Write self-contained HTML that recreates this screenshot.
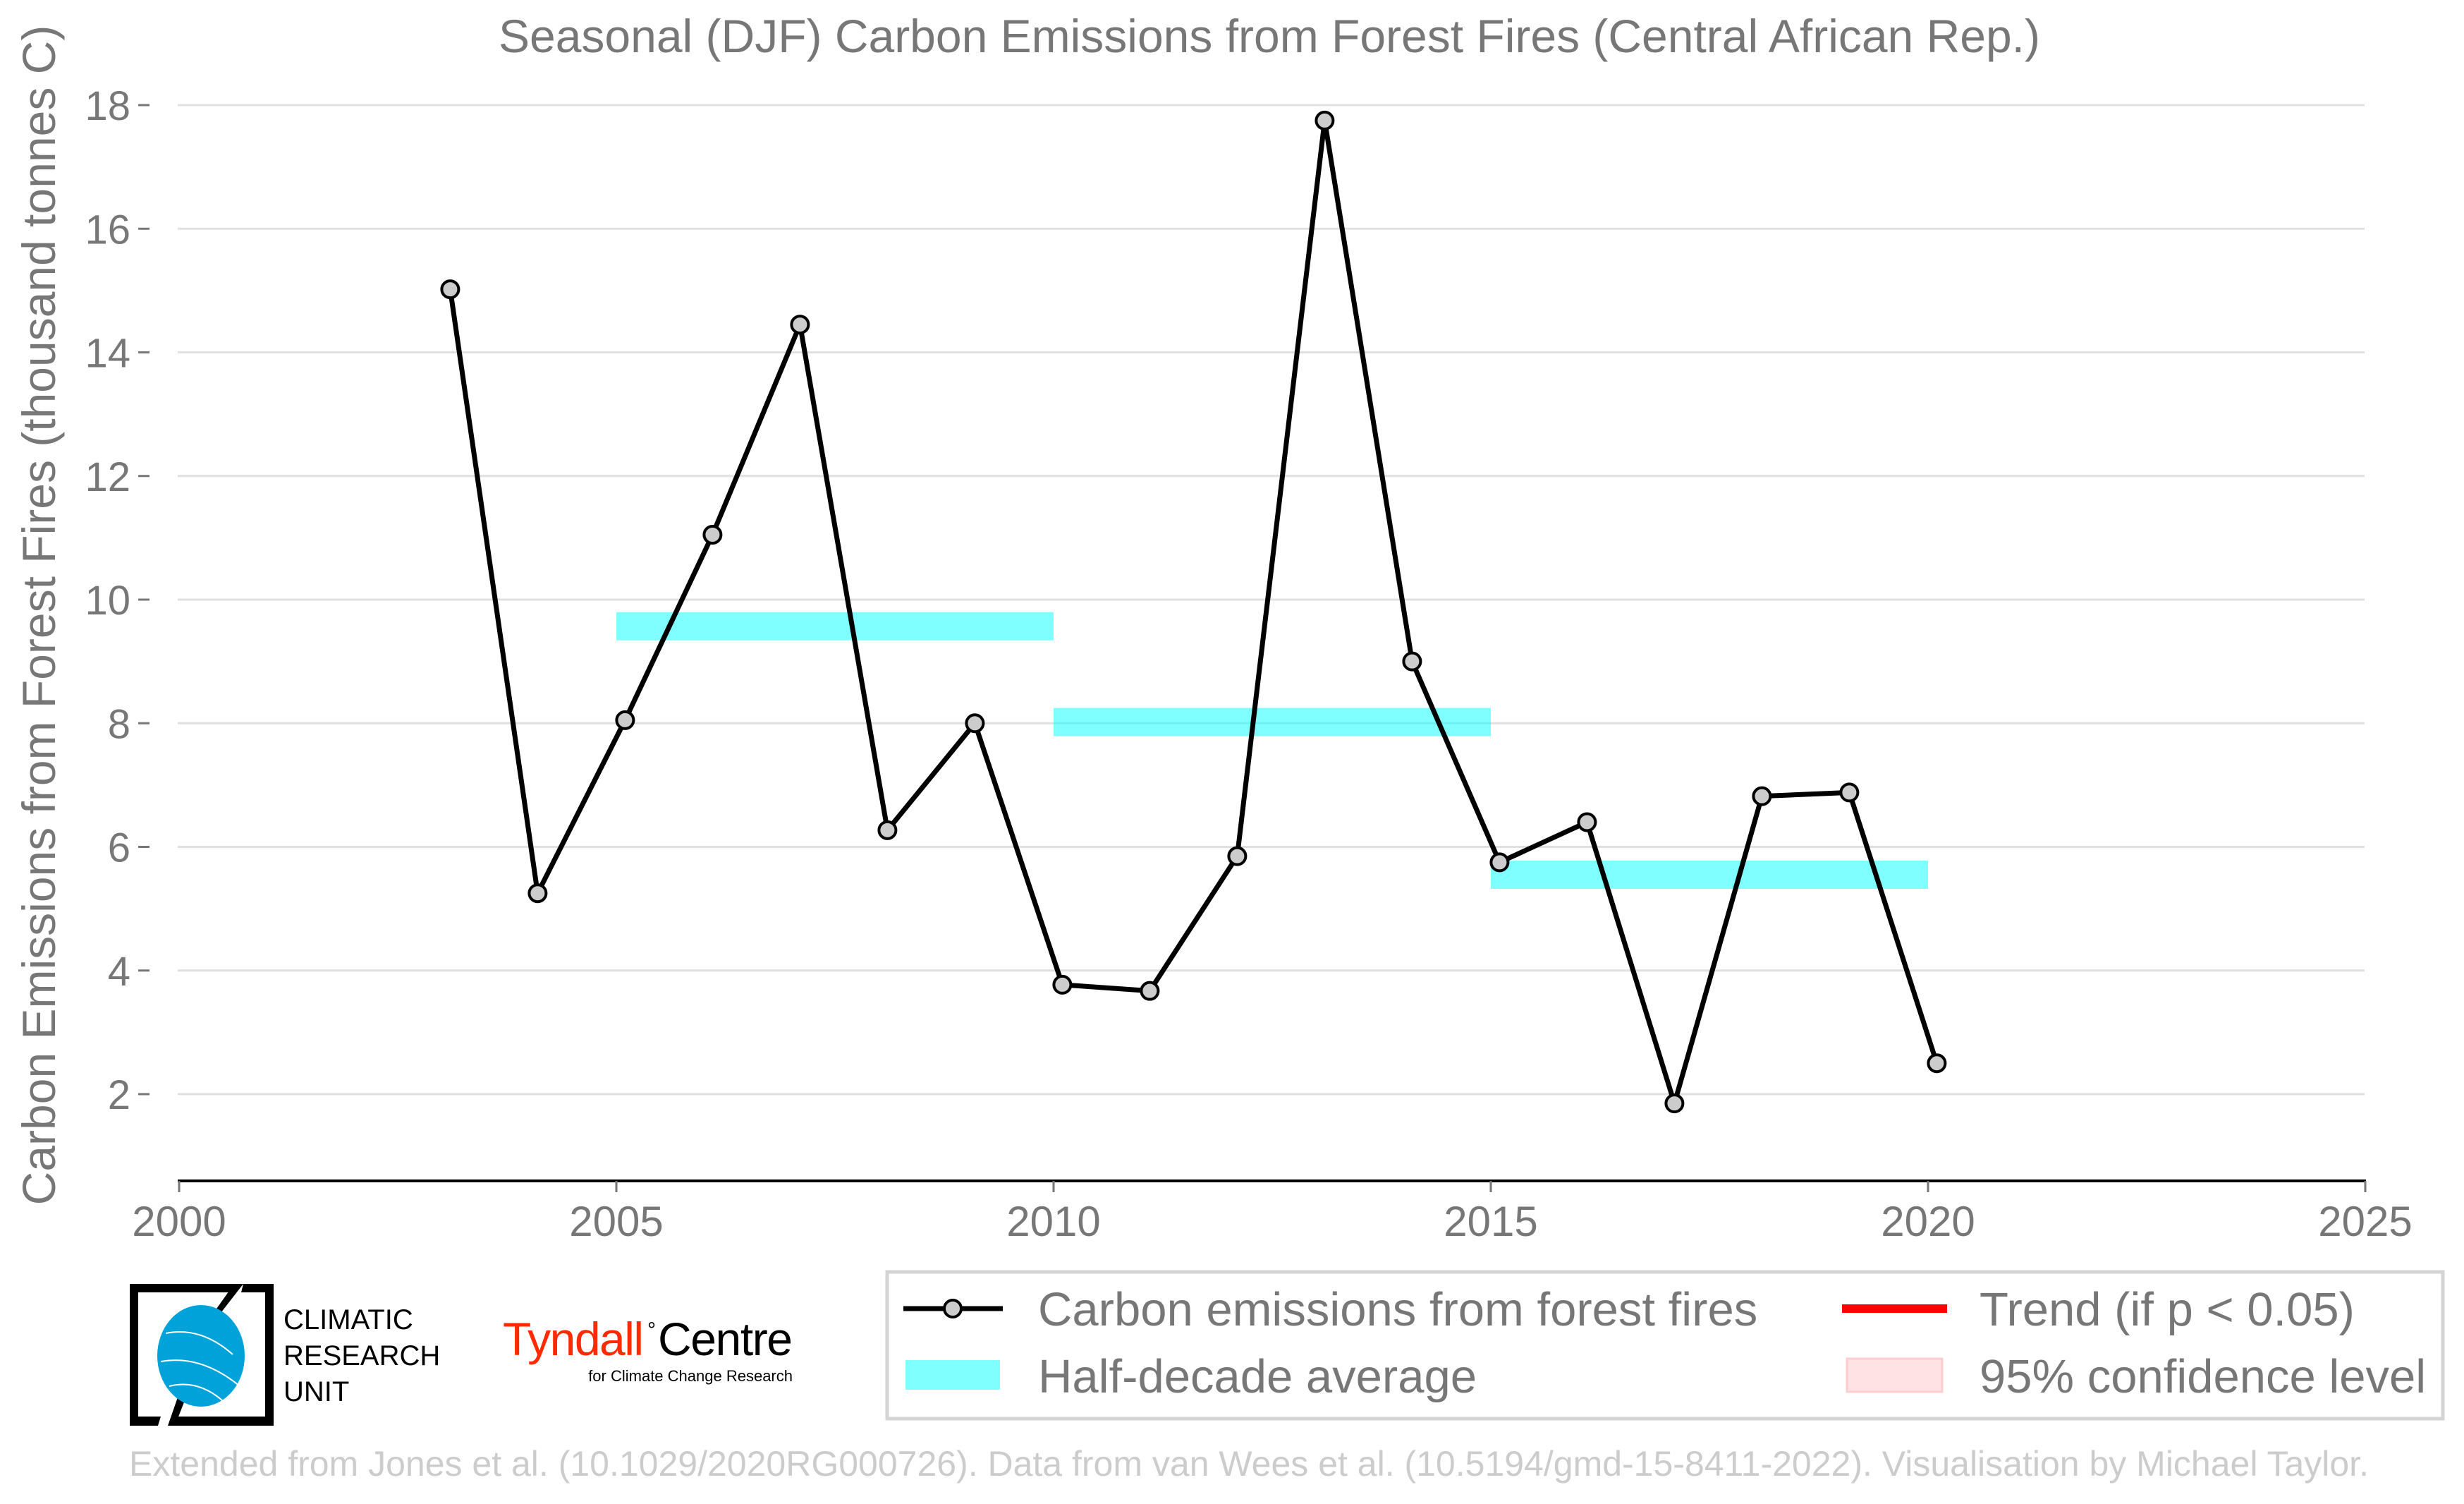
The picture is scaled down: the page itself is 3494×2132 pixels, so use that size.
<!DOCTYPE html>
<html><head><meta charset="utf-8"><style>
html,body{margin:0;padding:0;background:#fff;}
svg{display:block;font-family:"Liberation Sans",Arial,sans-serif;}
</style></head><body>
<svg id="chart" width="3494" height="2132" viewBox="0 0 3494 2132" xmlns="http://www.w3.org/2000/svg">
<text x="1800" y="74" font-size="66" fill="#777" text-anchor="middle">Seasonal (DJF) Carbon Emissions from Forest Fires (Central African Rep.)</text>
<text transform="translate(78,872) rotate(-90)" font-size="66" fill="#777" text-anchor="middle">Carbon Emissions from Forest Fires (thousand tonnes C)</text>
<g id="grid"></g>
<g id="yticks"></g>
<g id="xticks"></g>
<g id="bars"></g>
<g id="series"></g>

<g>
<rect x="1258" y="1803" width="2206" height="208" fill="#fff" stroke="#d4d4d4" stroke-width="5"/>
<g>
<line x1="1281" y1="1855" x2="1422" y2="1855" stroke="#000" stroke-width="7"/>
<circle cx="1351" cy="1855" r="12" fill="#ccc" stroke="#000" stroke-width="4"/>
<text x="1472" y="1879" font-size="67" fill="#777">Carbon emissions from forest fires</text></g>
<g>
<rect x="1284" y="1928" width="134" height="42" fill="#80ffff"/>
<text x="1472" y="1974" font-size="67" fill="#777">Half-decade average</text></g>
<g>
<rect x="2612" y="1849" width="149" height="12" fill="#ff0000"/>
<text x="2807" y="1879" font-size="67" fill="#777">Trend (if p &lt; 0.05)</text></g>
<g>
<rect x="2619" y="1926" width="135" height="47" fill="#ffe2e4" stroke="#ffcccf" stroke-width="3"/>
<text x="2807" y="1974" font-size="67" fill="#777">95% confidence level</text></g>
</g>

<g>
<path d="M184,1820 L333,1820 L325,1832 L196,1832 L196,2008 L228,2008 L224,2021 L184,2021 Z" fill="#000"/>
<path d="M345,1820 L388,1820 L388,2021 L240,2021 L244,2008 L376,2008 L376,1832 L342,1832 Z" fill="#000"/>
<path d="M332,1820 L345,1820 L310,1865 L300,1865 Z" fill="#000"/>
<path d="M254,1975 L266,1975 L248,2021 L238,2021 Z" fill="#000"/>
<ellipse cx="285" cy="1922" rx="62" ry="72" fill="#00a3d9"/>
<path d="M235,1890 Q285,1880 330,1920 M228,1930 Q285,1920 340,1965 M240,1965 Q280,1955 315,1985" stroke="#fff" stroke-width="2" fill="none"/>
<text x="402" y="1884" font-size="40" fill="#000">CLIMATIC</text>
<text x="402" y="1935" font-size="40" fill="#000">RESEARCH</text>
<text x="402" y="1986" font-size="40" fill="#000">UNIT</text>
</g>
<g>
<text x="713" y="1921" font-size="66" fill="#ff2a00" textLength="200">Tyndall</text>
<text x="918" y="1895" font-size="30" fill="#000">°</text>
<text x="933" y="1921" font-size="66" fill="#000" textLength="191">Centre</text>
<text x="1124" y="1958" font-size="22" fill="#000" text-anchor="end">for Climate Change Research</text>
</g>
<text x="1771" y="2092" font-size="50" fill="#ccc" text-anchor="middle">Extended from Jones et al. (10.1029/2020RG000726). Data from van Wees et al. (10.5194/gmd-15-8411-2022). Visualisation by Michael Taylor.</text>
</svg>
<script>
const years=[2003,2004,2005,2006,2007,2008,2009,2010,2011,2012,2013,2014,2015,2016,2017,2018,2019,2020];
const emissions=[15.02,5.25,8.05,11.05,14.45,6.27,8.0,3.77,3.67,5.85,17.75,9.0,5.75,6.4,1.85,6.82,6.88,2.5];
const halfStart=[2005,2010,2015];
const halfEnd=[2010,2015,2020];
const halfAvg=[9.57,8.02,5.55];
const yTicks=[2,4,6,8,10,12,14,16,18];
const xTicks=[2000,2005,2010,2015,2020,2025];
const NS='http://www.w3.org/2000/svg';
const X=v=>254+(v-2000)*124;
const Y=v=>149+(18-v)*87.625;
function mk(tag,attrs,parent){const e=document.createElementNS(NS,tag);for(const k in attrs)e.setAttribute(k,attrs[k]);parent.appendChild(e);return e;}
const grid=document.getElementById('grid'),yt=document.getElementById('yticks'),xt=document.getElementById('xticks'),bars=document.getElementById('bars'),ser=document.getElementById('series');
yTicks.forEach(t=>{
 const g=mk('line',{x1:252,x2:3353,y1:Y(t),y2:Y(t),stroke:'#e0e0e0','stroke-width':3},grid);
 
 
 mk('line',{x1:196,x2:212,y1:Y(t),y2:Y(t),stroke:'#777','stroke-width':3},yt);
 const tx=mk('text',{x:185,y:Y(t)+21,'font-size':58,fill:'#777','text-anchor':'end'},yt);
 tx.textContent=t;
 
 
});
mk('line',{x1:252,x2:3355,y1:1674,y2:1674,stroke:'#000','stroke-width':4},xt);
xTicks.forEach(t=>{
 mk('line',{x1:X(t),x2:X(t),y1:1674,y2:1690,stroke:'#777','stroke-width':3},xt);
 const tx=mk('text',{x:X(t),y:1752,'font-size':60,fill:'#777','text-anchor':'middle'},xt);
 tx.textContent=t;
 
 
});
halfAvg.forEach((v,i)=>{
 const r=mk('rect',{x:X(halfStart[i]),y:Y(v)-20,width:X(halfEnd[i])-X(halfStart[i]),height:40,fill:'#00ffff','fill-opacity':0.5},bars);
 
 
});
const pts=years.map((y,i)=>(X(y+0.1))+','+Y(emissions[i])).join(' ');
const pl=mk('polyline',{points:pts,fill:'none',stroke:'#000','stroke-width':7,'stroke-linejoin':'round'},ser);


years.forEach((y,i)=>{
 const c=mk('circle',{cx:X(y+0.1),cy:Y(emissions[i]),r:12,fill:'#ccc',stroke:'#000','stroke-width':4},ser);
 
 
});
</script>
</body></html>
